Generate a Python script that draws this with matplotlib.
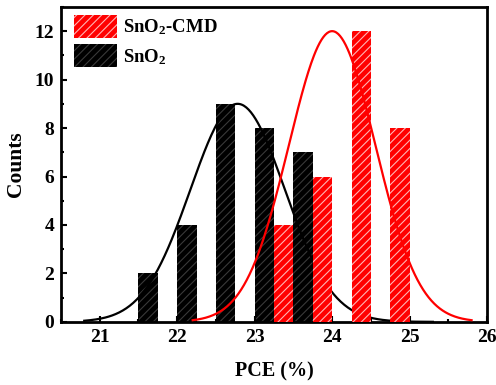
import numpy as np
import matplotlib.pyplot as plt
from matplotlib.ticker import MultipleLocator

plt.rcParams['font.family'] = ['Liberation Serif', 'DejaVu Serif']
plt.rcParams['font.weight'] = 'bold'
plt.rcParams['mathtext.fontset'] = 'custom'
plt.rcParams['mathtext.rm'] = 'Liberation Serif:bold'
plt.rcParams['mathtext.default'] = 'rm'
plt.rcParams['hatch.linewidth'] = 0.8

# histogram bins (left edges) and counts
sno2_edges = [21.5, 22.0, 22.5, 23.0, 23.5]
sno2_counts = [2, 4, 9, 8, 7]
cmd_edges = [23.25, 23.75, 24.25, 24.75]
cmd_counts = [4, 6, 12, 8]
bin_width = 0.25

# gaussian fits: centre, peak height, sigma
sno2_fit = (22.78, 9.0, 0.61)
cmd_fit = (24.0, 12.0, 0.56)


def gauss(x, fit):
    mu, amp, sig = fit
    return amp * np.exp(-(x - mu) ** 2 / (2 * sig ** 2))


fig = plt.figure(figsize=(4.96, 3.85), dpi=100)
ax = fig.add_axes([0.123, 0.164, 0.859, 0.818])

ax.bar(sno2_edges, sno2_counts, width=bin_width, align='edge', color='black',
       edgecolor='#3a3a3a', hatch='////', linewidth=0, label='SnO$_2$', zorder=1)
x_black = np.linspace(20.8, 25.3, 300)
ax.plot(x_black, gauss(x_black, sno2_fit), color='black', lw=1.6, zorder=2)

ax.bar(cmd_edges, cmd_counts, width=bin_width, align='edge', color='#ff0000',
       edgecolor='#ffb4b4', hatch='////', linewidth=0, label='SnO$_2$-CMD', zorder=3)
x_red = np.linspace(22.2, 25.8, 300)
ax.plot(x_red, gauss(x_red, cmd_fit), color='#ff0000', lw=1.6, zorder=4)

ax.set_xlim(20.5, 26)
ax.set_ylim(0, 13)
ax.xaxis.set_major_locator(MultipleLocator(1))
ax.xaxis.set_minor_locator(MultipleLocator(0.5))
ax.yaxis.set_major_locator(MultipleLocator(2))
ax.yaxis.set_minor_locator(MultipleLocator(1))
ax.tick_params(which='both', direction='in', labelsize=14, width=1.5)
ax.tick_params(which='major', length=4, pad=5)
ax.tick_params(which='minor', length=2.5)
for s in ax.spines.values():
    s.set_linewidth(2)

ax.set_xlabel('PCE (%)', fontsize=14.5, fontweight='bold', labelpad=11)
ax.set_ylabel('Counts', fontsize=15.5, fontweight='bold', labelpad=6)

handles, labels = ax.get_legend_handles_labels()
ax.legend(handles[::-1], labels[::-1], loc='upper left', bbox_to_anchor=(0.0, 1.016),
          frameon=False, fontsize=13.5, handlelength=2.3, handleheight=1.5,
          borderaxespad=0.3, labelspacing=0.35, handletextpad=0.3)

fig.savefig('out.png', dpi=100)
